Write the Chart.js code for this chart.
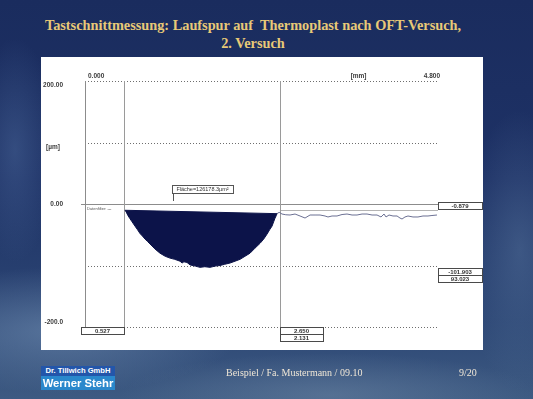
<!DOCTYPE html>
<html>
<head>
<meta charset="utf-8">
<script src="https://cdn.jsdelivr.net/npm/chart.js@4.4.1/dist/chart.umd.min.js"></script>
<style>
  html, body { margin:0; padding:0; }
  body {
    width:533px; height:399px; overflow:hidden; position:relative;
    background:
      radial-gradient(ellipse 260px 90px at 60px 330px, rgba(120,150,185,0.55), rgba(120,150,185,0) 70%),
      radial-gradient(ellipse 300px 60px at 330px 395px, rgba(110,135,165,0.5), rgba(110,135,165,0) 70%),
      radial-gradient(ellipse 80px 200px at 520px 250px, rgba(90,120,160,0.45), rgba(90,120,160,0) 70%),
      radial-gradient(ellipse 60px 160px at 15px 150px, rgba(80,110,160,0.45), rgba(80,110,160,0) 70%),
      linear-gradient(180deg, #1a2c5e 0%, #1e3266 45%, #2c4674 80%, #3d5a82 100%);
  }
  #panel { position:absolute; left:41px; top:57px; width:442px; height:293px; background:#fff; }
  #c { position:absolute; left:0; top:0; }
  .title { position:absolute; left:0; width:506px; text-align:center; font-family:"Liberation Serif", serif;
           font-weight:bold; font-size:14.3px; color:#e8c977; white-space:nowrap; }
  #firm1 { position:absolute; left:41px; top:366px; width:74px; height:10px; background:#2356aa; color:#fff;
           font:bold 7.6px "Liberation Sans", sans-serif; line-height:10px; text-align:center; white-space:nowrap; }
  #firm2 { position:absolute; left:41px; top:376px; width:74px; height:14px; background:#2a88cc; color:#fff;
           font:bold 11.3px "Liberation Sans", sans-serif; line-height:14px; text-align:center; white-space:nowrap; }
  .foot { position:absolute; top:367px; font-family:"Liberation Serif", serif; font-size:10px; color:#efe6d6; white-space:nowrap; }
</style>
</head>
<body>
<div class="title" style="top:17px">Tastschnittmessung: Laufspur auf&nbsp; Thermoplast nach OFT-Versuch,</div>
<div class="title" style="top:35px">2. Versuch</div>
<div id="panel"></div>
<canvas id="c" width="533" height="399"></canvas>
<div id="firm1">Dr. Tillwich GmbH</div>
<div id="firm2">Werner Stehr</div>
<div class="foot" style="left:226px">Beispiel / Fa. Mustermann / 09.10</div>
<div class="foot" style="left:459px">9/20</div>
<script>
// ---- data ----
const xRange = [0, 4.8];            // mm
const yRange = [-200, 200];         // µm
const yTicks = [200, 100, 0, -100, -200];
const yTickLabels = ['200.00', '', '0.00', '', '-200.0'];
const xTickLabels = ['0.000', '4.800'];
const xUnit = '[mm]';
const yUnit = '[µm]';

// straight upper edge of the measured area
const troughTopX = [0.544, 2.611];
const troughTopY = [-10.2, -15.7];

// profile inside the wear track
const troughX = [0.544, 0.560, 0.585, 0.612, 0.640, 0.680, 0.715, 0.748, 0.780, 0.816, 0.850, 0.884, 0.950, 1.020, 1.090, 1.156, 1.220, 1.292, 1.320, 1.345, 1.387, 1.428, 1.500, 1.564, 1.630, 1.700, 1.768, 1.836, 1.900, 1.972, 2.040, 2.108, 2.176, 2.244, 2.310, 2.380, 2.430, 2.475, 2.510, 2.543, 2.565, 2.584, 2.600, 2.611];
const troughY = [-10.2, -13, -19, -24, -29, -36, -42, -48, -52, -57, -61, -65, -73, -80, -85, -88, -90, -93, -96, -94, -95, -99, -101, -103, -102, -103, -101, -100, -98, -96, -93, -90, -85, -80, -72, -64, -57, -49, -42, -36, -29, -23, -19, -15.7];

// undamaged surface right of the track
const surfaceX = [2.611, 2.640, 2.679, 2.730, 2.788, 2.856, 2.924, 2.992, 3.060, 3.128, 3.196, 3.264, 3.304, 3.359, 3.427, 3.495, 3.563, 3.631, 3.699, 3.767, 3.835, 3.903, 3.971, 4.025, 4.066, 4.093, 4.134, 4.188, 4.243, 4.283, 4.311, 4.351, 4.392, 4.460, 4.528, 4.596, 4.664, 4.718, 4.786];
const surfaceY = [-15.7, -13.5, -16.3, -17.5, -17.9, -16.3, -19.5, -22.8, -17.9, -17.9, -17.9, -19.5, -21.1, -19.5, -19.5, -17.1, -16.3, -17.9, -17.9, -16.3, -16.3, -17.9, -17.9, -21.1, -16.3, -21.1, -17.9, -19.5, -19.5, -22.8, -24.4, -21.1, -19.5, -21.1, -21.1, -19.5, -19.5, -18.7, -17.9];

const referenceLevel = -9.5;        // second horizontal line under the zero line
const cursorPositions = [0.527, 2.650];
const cursorReadouts = [['0.527'], ['2.650', '2.131']];
const levelValues = [0, -100];
const levelReadouts = [['-0.879'], ['-101.903', '93.023']];
const areaLabel = 'Fläche=126178.3µm²';
const areaLabelAt = 1.18;           // mm
const filterNote = 'Datenfilter: ---';

const toPts = (xs, ys) => xs.map((v, i) => ({x: v, y: ys[i]}));

const overlay = {
  id: 'overlay',
  beforeDatasetsDraw(chart) {
    const {ctx, chartArea: a, scales: {x, y}} = chart;
    ctx.save();
    ctx.lineWidth = 1;
    yTicks.forEach(v => {
      const py = Math.round(y.getPixelForValue(v)) + 0.5;
      ctx.beginPath();
      if (v === 0) { ctx.setLineDash([]); ctx.strokeStyle = '#8c8c8c'; ctx.moveTo(a.left - 4, py); }
      else { ctx.setLineDash([1, 2]); ctx.strokeStyle = '#6e6e6e'; ctx.moveTo(a.left, py); }
      ctx.lineTo(a.right, py);
      ctx.stroke();
    });
    ctx.setLineDash([]);
    const pr = Math.round(y.getPixelForValue(referenceLevel)) + 0.5;
    ctx.strokeStyle = '#b4b4b4';
    ctx.beginPath(); ctx.moveTo(x.getPixelForValue(cursorPositions[1]), pr); ctx.lineTo(a.right, pr); ctx.stroke();
    ctx.strokeStyle = '#8c8c8c';
    const px0 = Math.round(x.getPixelForValue(xRange[0])) + 0.5;
    ctx.beginPath(); ctx.moveTo(px0, a.top); ctx.lineTo(px0, a.bottom); ctx.stroke();
    cursorPositions.forEach(c => {
      const px = Math.round(x.getPixelForValue(c)) + 0.5;
      ctx.strokeStyle = '#9a9a9a';
      ctx.beginPath(); ctx.moveTo(px, a.top); ctx.lineTo(px, a.bottom); ctx.stroke();
    });
    ctx.fillStyle = '#3a3a3a';
    ctx.font = 'bold 6.5px "Liberation Sans", sans-serif';
    ctx.textBaseline = 'middle';
    ctx.textAlign = 'right';
    yTicks.forEach((v, i) => {
      if (!yTickLabels[i]) return;
      let py = y.getPixelForValue(v);
      if (i === 0) py += 4; else if (i === yTicks.length - 1) py -= 4.5;
      ctx.fillText(yTickLabels[i], 63, py);
    });
    ctx.textAlign = 'center';
    ctx.fillText(yUnit, 53, y.getPixelForValue(yTicks[1]) + 5);
    ctx.textAlign = 'left';
    ctx.fillText(xTickLabels[0], x.getPixelForValue(xRange[0]) + 3, a.top - 5);
    ctx.textAlign = 'right';
    ctx.fillText(xTickLabels[1], x.getPixelForValue(xRange[1]) + 2, a.top - 5);
    ctx.textAlign = 'center';
    ctx.fillText(xUnit, x.getPixelForValue(3.72), a.top - 5);
    ctx.font = '4px "Liberation Sans", sans-serif';
    ctx.fillStyle = '#555';
    ctx.textAlign = 'left';
    ctx.fillText(filterNote, a.left + 2, y.getPixelForValue(referenceLevel) - 0.5);
    ctx.restore();
  },
  afterDatasetsDraw(chart) {
    const {ctx, chartArea: a, scales: {x, y}} = chart;
    ctx.save();
    ctx.lineWidth = 1;
    ctx.strokeStyle = '#4a4a4a';
    ctx.fillStyle = '#333';
    ctx.font = 'bold 6px "Liberation Sans", sans-serif';
    ctx.textAlign = 'center';
    ctx.textBaseline = 'middle';
    const box = (x0, y0, w, h, t) => {
      ctx.fillStyle = '#fff';
      ctx.fillRect(x0, y0, w, h);
      ctx.strokeRect(Math.round(x0) + 0.5, Math.round(y0) + 0.5, w, h);
      ctx.fillStyle = '#333';
      ctx.fillText(t, x0 + w / 2, y0 + h / 2 + 0.5);
    };
    cursorPositions.forEach((c, i) => {
      const px = Math.round(x.getPixelForValue(c));
      cursorReadouts[i].forEach((t, j) => {
        if (i === 0) box(px - 43, a.bottom + j * 7, 43, 7, t);
        else box(px, a.bottom + j * 7, 43, 7, t);
      });
    });
    levelValues.forEach((v, i) => {
      const py = Math.round(y.getPixelForValue(v));
      levelReadouts[i].forEach((t, j) => box(a.right, py - (i === 0 ? 2 : -2) + j * 7, 44, 7, t));
    });
    const lx = Math.round(x.getPixelForValue(areaLabelAt));
    const ly = Math.round(y.getPixelForValue(0));
    ctx.strokeStyle = '#555';
    ctx.beginPath(); ctx.moveTo(lx + 1.5, ly - 11); ctx.lineTo(lx + 1.5, ly - 3); ctx.stroke();
    ctx.font = '5.5px "Liberation Sans", sans-serif';
    box(lx, ly - 19, 61, 8, areaLabel);
    ctx.restore();
  }
};

new Chart(document.getElementById('c'), {
  type: 'line',
  data: {
    datasets: [
      { data: toPts(troughTopX, troughTopY), borderColor: '#0c1349', borderWidth: 1, pointRadius: 0, fill: false },
      { data: toPts(troughX, troughY), borderColor: '#0c1349', backgroundColor: '#0c1349', borderWidth: 1, pointRadius: 0, fill: '-1' },
      { data: toPts(surfaceX, surfaceY), borderColor: '#6b7093', borderWidth: 1, pointRadius: 0, fill: false }
    ]
  },
  options: {
    responsive: false,
    animation: false,
    events: [],
    layout: { padding: { left: 85, right: 95, top: 81, bottom: 72 } },
    plugins: { legend: { display: false }, tooltip: { enabled: false } },
    scales: {
      x: { type: 'linear', min: xRange[0], max: xRange[1], display: false },
      y: { type: 'linear', min: yRange[0], max: yRange[1], display: false }
    }
  },
  plugins: [overlay]
});
</script>
</body>
</html>
